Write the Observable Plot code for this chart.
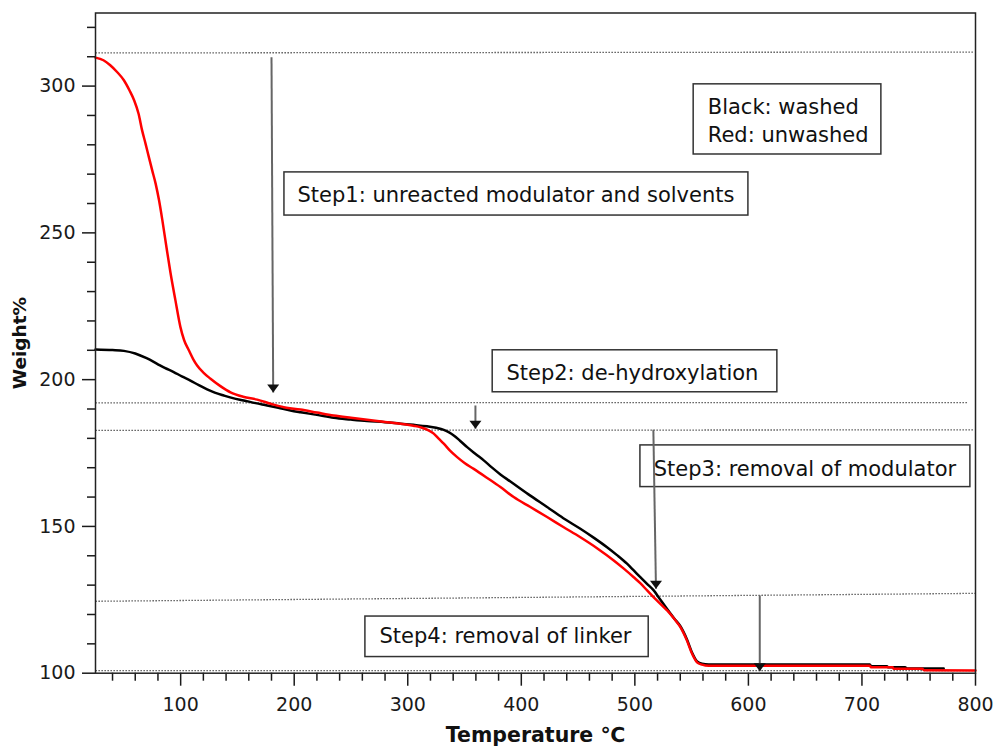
<!DOCTYPE html>
<html>
<head>
<meta charset="utf-8">
<script src="https://cdn.jsdelivr.net/npm/d3@7"></script>
<script src="https://cdn.jsdelivr.net/npm/@observablehq/plot@0.6"></script>
<style>
  body { margin: 0; background: #fff; }
</style>
</head>
<body>
<div id="chart"></div>
<script>
// Thermogravimetric curves: [temperature °C, weight %]
const washed = [
  [25, 210.3], [40, 210.1], [50, 209.8], [60, 208.9], [70, 207.3], [79.3, 205.4],
  [86, 204.0], [93.9, 202.6], [101, 201.1], [108.6, 199.7], [116, 198.1], [123.3, 196.7],
  [130, 195.6], [138, 194.6], [146, 193.7], [155.6, 192.9], [166, 192.0], [176.2, 191.2],
  [186, 190.4], [196.7, 189.5], [205.5, 188.9], [220, 188.0], [234.8, 187.0], [250, 186.4],
  [264.2, 185.9], [280, 185.5], [293.6, 185.0], [305, 184.6], [317, 184.1], [325, 183.6],
  [331.7, 182.9], [336, 182.1], [340.5, 181.0], [346, 179.2], [352.3, 177.0], [360, 174.6],
  [366.9, 172.5], [374, 170.1], [381.6, 167.7], [390.4, 165.3], [406, 161.0], [422.7, 156.6],
  [437, 152.8], [452, 149.2], [464, 146.1], [475.5, 142.9], [484, 140.3], [493.1, 137.3],
  [499, 135.0], [504.8, 132.7], [510.5, 130.5], [516.6, 128.2], [522, 125.3], [528.4, 121.9],
  [535, 118.5], [540.1, 116.0], [545.9, 111.5], [550.4, 107.0], [554.8, 104.0], [559.2, 103.2],
  [565, 103.0], [707, 103.0], [708, 102.4], [722, 102.4], [723, 102.0], [738, 102.0],
  [740, 101.6], [772, 101.6]
];

const unwashed = [
  [25, 309.7], [32, 308.8], [38, 307.1], [44, 304.8], [50, 302.0], [55, 298.5],
  [59, 295.2], [63, 290.5], [66, 285.0], [69, 280.5], [72, 275.8], [75, 271.2],
  [78, 266.7], [81, 261.0], [84, 254.0], [87.5, 245.1], [91, 236.5], [95.4, 227.0],
  [99.8, 217.9], [103, 213.5], [107.2, 210.0], [111, 207.0], [114.5, 204.8], [120, 202.4],
  [126.3, 200.3], [135, 197.8], [143.9, 195.7], [155, 194.2], [167.4, 193.2], [180, 191.7],
  [190.8, 190.6], [205.5, 189.8], [220, 188.8], [234.8, 187.8], [250, 187.0], [264.2, 186.3],
  [280, 185.6], [293.6, 185.0], [305, 184.3], [311.2, 183.8], [317, 183.0], [322.9, 181.6],
  [327, 180.0], [331.7, 178.2], [337, 175.9], [343.5, 173.6], [350, 171.6], [358.1, 169.6],
  [370, 166.5], [381.6, 163.4], [393.3, 160.0], [408, 156.6], [422.7, 153.2], [437, 149.8],
  [452, 146.3], [467, 142.5], [481.4, 138.4], [490, 135.7], [499, 132.7], [505, 130.6],
  [510.8, 128.2], [518, 125.3], [525.4, 122.5], [528.4, 121.4], [535.7, 118.0], [540.1, 115.7],
  [545.9, 111.1], [550.4, 106.6], [554.8, 103.7], [559.2, 102.9], [565, 102.5], [707, 102.5],
  [708, 102.0], [727, 102.0], [728, 101.5], [753, 101.5], [755, 101.0], [800, 100.9]
];

// Axis ticks
const xMajorTicks = [100, 200, 300, 400, 500, 600, 700, 800];
const xMinorTicks = [40, 60, 80, 120, 140, 160, 180, 220, 240, 260, 280, 320, 340, 360, 380,
  420, 440, 460, 480, 520, 540, 560, 580, 620, 640, 660, 680, 720, 740, 760, 780];
const yMajorTicks = [100, 150, 200, 250, 300];
const yMinorTicks = [110, 120, 130, 140, 160, 170, 180, 190, 210, 220, 230, 240,
  260, 270, 280, 290, 310, 320];

// Dotted step levels: [T start, W start, T end, W end]
const levels = [
  [25, 311.3, 799, 311.6],
  [25, 192.1, 793, 192.2],
  [25, 182.7, 798, 182.9],
  [25, 124.5, 800, 127.2],
  [25, 100.9, 800, 100.9]
];

// Step arrows: [T top, W top, T tip, W tip]
const arrows = [
  [180.0, 309.8, 181.5, 195.6],
  [359.6, 191.2, 359.6, 183.3],
  [516.3, 182.9, 518.6, 128.8],
  [610.0, 126.5, 610.0, 100.7]
];

// Annotation labels
const noteLabels = [
  "Step1: unreacted modulator and solvents",
  "Step2: de-hydroxylation",
  "Step3: removal of modulator",
  "Step4: removal of linker",
  "Black: washed\nRed: unwashed"
];
// Label anchor (text start, middle line) in data units
const noteAnchorT = [202.9, 386.9, 516.6, 275.1, 564.2];
const noteAnchorW = [263.7, 203.0, 170.4, 113.3, 288.8];
// Label boxes [T left, T right, W bottom, W top]
const noteBoxes = [
  [191.4, 600.0, 255.9, 270.6],
  [374.8, 625.5, 195.7, 210.0],
  [504.9, 795.5, 163.4, 177.6],
  [262.7, 512.2, 105.5, 119.3],
  [551.8, 717.1, 276.7, 300.6]
];

const notes = noteLabels.map((label, i) => ({
  label, t: noteAnchorT[i], w: noteAnchorW[i], box: noteBoxes[i]
}));

// Filled downward triangle with its tip at the anchor point
const arrowHead = {
  draw(context) {
    context.moveTo(0, 0);
    context.lineTo(-6, -8);
    context.lineTo(6, -8);
    context.closePath();
  }
};

const font = "DejaVu Sans";

const chart = Plot.plot({
  width: 995,
  height: 749,
  marginLeft: 95,
  marginRight: 20,
  marginTop: 12.5,
  marginBottom: 76.3,
  x: {domain: [25, 800]},
  y: {domain: [100, 324.9]},
  style: {fontFamily: font, fontSize: "19px", color: "#1a1a1a", background: "#fff"},
  marks: [
    Plot.link(levels, {
      x1: d => d[0], y1: d => d[1], x2: d => d[2], y2: d => d[3],
      stroke: "#444", strokeWidth: 1.3, strokeDasharray: "1.3 1.7"
    }),
    Plot.rect(notes, {
      x1: d => d.box[0], x2: d => d.box[1], y1: d => d.box[2], y2: d => d.box[3],
      fill: "#fff", stroke: "#333", strokeWidth: 1.5
    }),
    Plot.text(notes, {
      x: "t", y: "w", text: "label", textAnchor: "start", lineAnchor: "middle",
      lineHeight: 1.36, fontSize: 21, fill: "#111"
    }),
    Plot.line(washed, {x: d => d[0], y: d => d[1], stroke: "#000", strokeWidth: 2.5, curve: "monotone-x"}),
    Plot.line(unwashed, {x: d => d[0], y: d => d[1], stroke: "#ff0000", strokeWidth: 2.5, curve: "monotone-x"}),
    Plot.link(arrows, {
      x1: d => d[0], y1: d => d[1], x2: d => d[2], y2: d => d[3],
      stroke: "#666", strokeWidth: 2
    }),
    Plot.dot(arrows, {
      x: d => d[2], y: d => d[3], symbol: arrowHead, fill: "#111", stroke: "none"
    }),
    Plot.axisY(yMinorTicks, {tickSize: 8, tickFormat: () => "", strokeWidth: 1.5, label: null}),
    Plot.axisY(yMajorTicks, {tickSize: 13, tickPadding: 7, strokeWidth: 1.5, fontSize: 19, label: null}),
    Plot.axisX(xMinorTicks, {tickSize: 8, tickFormat: () => "", strokeWidth: 1.5, label: null}),
    Plot.axisX(xMajorTicks, {tickSize: 13, tickPadding: 11, strokeWidth: 1.5, fontSize: 19, label: null}),
    Plot.frame({stroke: "#222", strokeWidth: 1.5}),
    Plot.text(["Weight%"], {
      text: d => d, frameAnchor: "left", dx: -75, rotate: -90,
      textAnchor: "middle", lineAnchor: "middle",
      fontWeight: "bold", fontSize: 18.5, fill: "#111"
    }),
    Plot.text(["Temperature ℃"], {
      text: d => d, frameAnchor: "bottom", dy: 62,
      textAnchor: "middle", lineAnchor: "middle",
      fontWeight: "bold", fontSize: 20.5, fill: "#111"
    })
  ]
});

document.getElementById("chart").appendChild(chart);
</script>
</body>
</html>
